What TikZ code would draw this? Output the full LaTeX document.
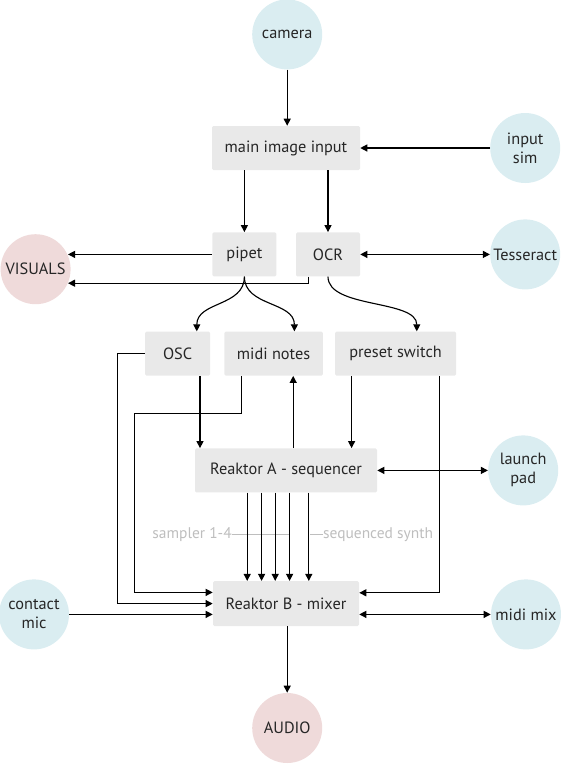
\documentclass[tikz,border=0pt]{standalone}
\usepackage{fontspec}
\setmainfont{PT Sans}
\usetikzlibrary{arrows.meta, positioning, calc}
\definecolor{BoxGrey}{RGB}{233, 233, 233}
\definecolor{DevBlue}{RGB}{218, 237, 241}
\definecolor{OutPink}{RGB}{239, 218, 218}
\definecolor{NoteGrey}{RGB}{190, 190, 190}

\begin{document}
\begin{tikzpicture}[
  every node/.style={font=\fontsize{11.6}{13.5}\selectfont, text=black!85},
  procbox/.style={fill=BoxGrey, rounded corners=1pt, align=center,
                  minimum height=1.1cm, inner sep=0pt},
  device/.style={circle, fill=DevBlue, align=center, minimum size=1.75cm,
                 inner sep=1.5pt},
  output/.style={circle, fill=OutPink, align=center, minimum size=1.75cm,
                 inner sep=1.5pt},
  note/.style={text=NoteGrey, font=\fontsize{11}{13}\selectfont, inner sep=0pt},
  noteline/.style={draw=NoteGrey, line width=0.6pt},
  arr/.style={-{Triangle[length=5pt, width=5pt]}, line width=0.8pt},
  arrs/.style={{Triangle[length=5pt, width=5pt]}-{Triangle[length=5pt, width=5pt]}, line width=0.8pt}
]
  \useasboundingbox (0,0) rectangle (14.1,-19.125);

  %% Row 1  (camera, main input)
  \node[device] (camera) at (7.18,-0.86) {camera};
  \node[procbox, minimum width=3.7cm] (mainin) at (7.15,-3.70) {main image input};
  \node[device] (insim)  at (13.13,-3.70) {input\\sim};

  %% Row 2  (pipet, OCR)
  \node[procbox, minimum width=1.6cm] (pipet) at (6.11,-6.36) {pipet};
  \node[procbox, minimum width=1.6cm] (ocr)   at (8.20,-6.36) {OCR};
  \node[device] (tess)    at (13.13,-6.36) {Tesseract};
  \node[output] (visuals) at (0.89,-6.73)  {VISUALS};

  %% Row 3  (OSC, midi notes, preset switch)
  \node[procbox, minimum width=1.63cm] (osc)    at (4.44,-8.84) {OSC};
  \node[procbox, minimum width=2.46cm] (midi)   at (6.84,-8.84) {midi notes};
  \node[procbox, minimum width=3.03cm] (preset) at (9.89,-8.84) {preset switch};

  %% Row 4  (Reaktor A)
  \node[procbox, minimum width=4.55cm] (reakta) at (7.15,-11.76) {Reaktor A - sequencer};
  \node[device] (launch) at (13.08,-11.76) {launch\\pad};

  %% Row 5  (Reaktor B)
  \node[procbox, minimum width=3.65cm, minimum height=1.12cm] (reaktb) at (7.15,-15.09) {Reaktor B - mixer};
  \node[device] (contact) at (0.85,-15.36)  {contact\\mic};
  \node[device] (midimix) at (13.15,-15.36) {midi mix};

  %% Row 6  (audio out)
  \node[output] (audio) at (7.18,-18.20) {AUDIO};

  %% bend points
  \coordinate (visin)    at (1.70,-7.08);
  \coordinate (midibend) at (3.36,-10.33);

  %% Arrows – input side
  \draw[arr] (camera) -- (camera |- mainin.north);
  \draw[arr] (insim) -- (mainin.east);
  \draw[arr] (pipet.north |- mainin.south) -- (pipet.north);
  \draw[arr] (ocr.north |- mainin.south) -- (ocr.north);

  %% Row 2 → visuals, tesseract
  \draw[arr]  (pipet.west) -- (pipet.west -| visin);
  \draw[arr]  ([xshift=-0.48cm]ocr.south) |- (visin);
  \draw[arrs] (ocr.east) -- (tess.west);

  %% Row 2 → Row 3
  \draw[arr] (pipet.south) .. controls +(0,-0.75) and +(0,0.75) .. ([xshift=0.48cm]osc.north);
  \draw[arr] (pipet.south) .. controls +(0,-0.75) and +(0,0.75) .. ([xshift=0.52cm]midi.north);
  \draw[arr] (ocr.south) .. controls +(0,-0.8) and +(0,0.8) .. ([xshift=0.53cm]preset.north);

  %% Row 3 → Row 4
  \draw[arr] ([xshift=0.56cm]osc.south) -- ([xshift=0.56cm]osc.south |- reakta.north);
  \draw[arr] ([xshift=0.49cm]midi.south |- reakta.north) -- ([xshift=0.49cm]midi.south);
  \draw[arr] ([xshift=-1.1cm]preset.south) -- ([xshift=-1.1cm]preset.south |- reakta.north);
  \draw[arrs] (reakta.east) -- (launch.west);

  %% Row 3 → Row 5
  \draw[arr] (osc.west) -- ++(-0.69,0) |- (reaktb.west);
  \draw[arr] ([xshift=-0.8cm]midi.south) |- (midibend) |- ([yshift=0.28cm]reaktb.west);
  \draw[arr] ([xshift=1.09cm]preset.south) |- ([yshift=0.27cm]reaktb.east);

  %% Row 4 → Row 5
  \node[note, anchor=east] (sampler) at (5.80,-13.36) {sampler 1-4};
  \node[note, anchor=west] (synth)   at (8.07,-13.36) {sequenced synth};
  \draw[noteline] (sampler.east) -- ++(1.45,0);
  \draw[noteline] (synth.west) -- ++(-0.32,0);
  \foreach \dx in {-0.97, -0.61, -0.27, 0.09, 0.57}
    \draw[arr] ([xshift=\dx cm]reakta.south) -- ([xshift=\dx cm]reakta.south |- reaktb.north);

  %% Row 5 → outputs
  \draw[arr]  (contact) -- (contact -| reaktb.west);
  \draw[arrs] (reaktb.east |- midimix) -- (midimix);
  \draw[arr]  (reaktb.south -| audio) -- (audio);
\end{tikzpicture}
\end{document}
